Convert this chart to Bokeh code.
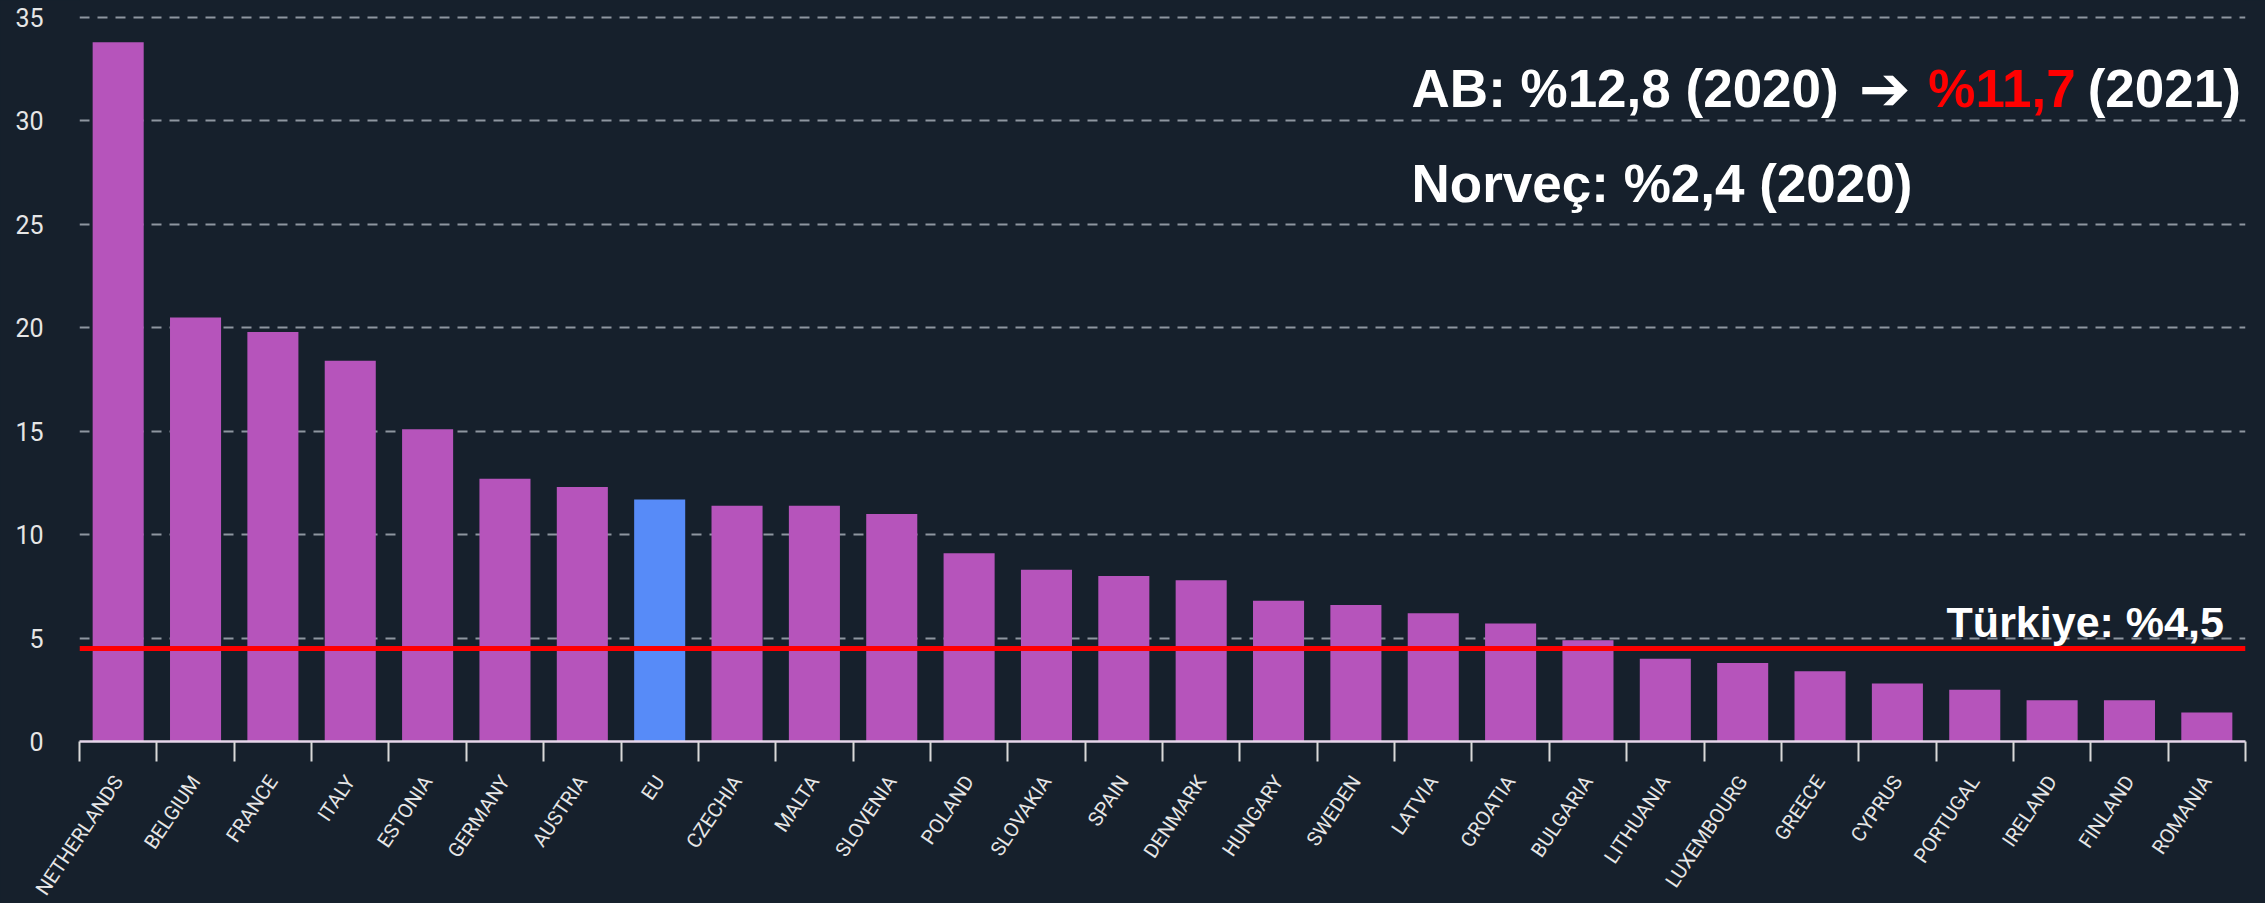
import numpy as np
from bokeh.plotting import figure
from bokeh.models import (Range1d, FixedTicker, SingleIntervalTicker,
                          CustomJSTickFormatter, Span, Label, ColumnDataSource)
from bokeh.embed import file_html
from bokeh.resources import INLINE

# ---- data ----
countries = ["NETHERLANDS", "BELGIUM", "FRANCE", "ITALY", "ESTONIA", "GERMANY",
             "AUSTRIA", "EU", "CZECHIA", "MALTA", "SLOVENIA", "POLAND", "SLOVAKIA",
             "SPAIN", "DENMARK", "HUNGARY", "SWEDEN", "LATVIA", "CROATIA",
             "BULGARIA", "LITHUANIA", "LUXEMBOURG", "GREECE", "CYPRUS",
             "PORTUGAL", "IRELAND", "FINLAND", "ROMANIA"]
values = [33.8, 20.5, 19.8, 18.4, 15.1, 12.7, 12.3, 11.7, 11.4, 11.4, 11.0, 9.1,
          8.3, 8.0, 7.8, 6.8, 6.6, 6.2, 5.7, 4.9, 4.0, 3.8, 3.4, 2.8, 2.5, 2.0,
          2.0, 1.4]
turkiye_value = 4.5
ab_text = "AB: %12,8 (2020)"
arrow_text = "\u2794"
ab_new_text = "%11,7"
ab_year_text = "(2021)"
norway_text = "Norveç: %2,4 (2020)"
turkiye_text = "Türkiye: %4,5"

# ---- styles ----
BG = "#16202c"
PURPLE = "#b654bb"
BLUE = "#578bf8"
LABEL_FONT = "Roboto"
ANN_FONT = "Liberation Sans"

n = len(countries)
xs = np.arange(n) + 0.5
colors = [BLUE if c == "EU" else PURPLE for c in countries]
src = ColumnDataSource(dict(x=xs, top=values, color=colors, name=countries))

p = figure(frame_width=2166, frame_height=741,
           x_range=Range1d(0, n), y_range=Range1d(0, 35.82),
           output_backend="svg", toolbar_location=None,
           min_border_left=79, min_border_right=20, min_border_top=0,
           min_border_bottom=162,
           background_fill_color=BG, border_fill_color=BG,
           outline_line_color=None)

p.vbar(x="x", top="top", width=0.66, bottom=0, fill_color="color",
       line_color=None, source=src)

# grid
p.xgrid.visible = False
p.ygrid.grid_line_color = "#9ba3ad"
p.ygrid.grid_line_dash = "10 8"
p.ygrid.grid_line_width = 2
p.ygrid.grid_line_alpha = 0.9

# y axis
p.yaxis.ticker = SingleIntervalTicker(interval=5, num_minor_ticks=0)
p.yaxis.axis_line_color = None
p.yaxis.major_tick_line_color = None
p.yaxis.minor_tick_line_color = None
p.yaxis.major_tick_out = 0
p.yaxis.major_tick_in = 0
p.yaxis.major_label_standoff = 36
p.yaxis.major_label_text_font = LABEL_FONT
p.yaxis.major_label_text_font_size = "25px"
p.yaxis.major_label_text_color = "#e6e6e6"

# x axis: labels at category centres, tick marks at category boundaries
p.xaxis.ticker = FixedTicker(ticks=list(xs), minor_ticks=list(range(n + 1)))
p.xaxis.formatter = CustomJSTickFormatter(args=dict(names=countries),
                                          code="return names[Math.floor(tick)] || '';")
p.xaxis.major_tick_line_color = None
p.xaxis.major_tick_out = 0
p.xaxis.major_tick_in = 0
p.xaxis.minor_tick_out = 20
p.xaxis.minor_tick_in = 0
p.xaxis.minor_tick_line_color = "#d9d9d9"
p.xaxis.minor_tick_line_width = 2
p.xaxis.axis_line_color = "#e6d6ea"
p.xaxis.axis_line_width = 2.5
p.xaxis.major_label_orientation = np.deg2rad(56)
p.xaxis.major_label_standoff = 16
p.xaxis.major_label_text_font = LABEL_FONT
p.xaxis.major_label_text_font_size = "20px"
p.xaxis.major_label_text_color = "#e6e6e6"

# Türkiye reference line
p.add_layout(Span(location=turkiye_value, dimension="width",
                  line_color="#ff0000", line_width=5))

def ann(x, y, text, color="white", size="53px", align="left", font=ANN_FONT):
    p.add_layout(Label(x=x, y=y, text=text, text_color=color, text_font=font,
                       text_font_style="bold", text_font_size=size,
                       text_align=align, text_baseline="alphabetic"))

ann(17.22, 31.57, ab_text)
ann(23.00, 31.57, arrow_text, font="DejaVu Sans", size="62px")
ann(23.90, 31.57, ab_new_text, color="#ff0000")
ann(27.94, 31.57, ab_year_text, align="right")
ann(17.22, 26.97, norway_text)
ann(27.72, 5.80, turkiye_text, size="43px", align="right")

html = file_html(p, INLINE, title="chart")
html = html.replace("<head>", "<head><style>html,body{background:%s;}</style>" % BG, 1)
open("out.html", "w").write(html)
